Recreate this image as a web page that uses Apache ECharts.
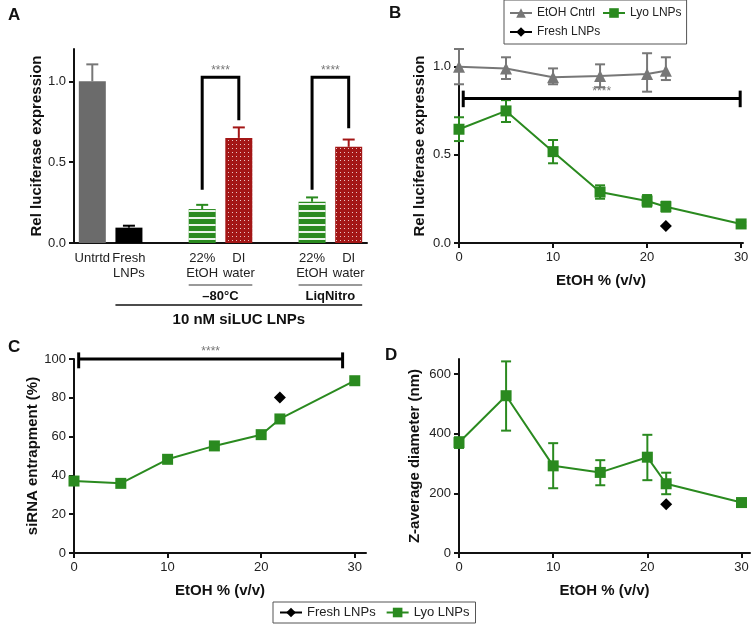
<!DOCTYPE html>
<html>
<head>
<meta charset="utf-8">
<script src="https://cdn.jsdelivr.net/npm/echarts@6/dist/echarts.min.js"></script>
<style>
  html, body { margin: 0; padding: 0; background: #fff; }
  #main { width: 752px; height: 626px; }
</style>
</head>
<body>
<div id="main"></div>
<script>
const FONT = '"Liberation Sans", Arial, sans-serif';
const GREEN = '#2a8a1f';
const RED = '#a31616';
const GRAY = '#6e6e6e';

// Panel A: bar chart (gap categories are empty slots)
const labelsA = ['Untrtd', 'Fresh\nLNPs', '', '22%\nEtOH', 'DI\nwater', '', '22%\nEtOH', 'DI\nwater'];
const meanA = [1.0, 0.095, null, 0.21, 0.65, null, 0.255, 0.595];
const errA = [0.105, 0.012, null, 0.026, 0.065, null, 0.027, 0.045];
const colorsA = ['#6b6b6b', '#000000', null, GREEN, RED, null, GREEN, RED];
const patternA = [null, null, null, 'lines', 'dots', null, 'lines', 'dots'];
// significance brackets: [leftIdx, rightIdx, leftFoot, top, rightFoot]
const bracketsA = [[3, 4, 0.33, 1.025, 0.76], [6, 7, 0.33, 1.025, 0.71]];

// Panel B: luciferase vs EtOH
const etohX = [0, 5, 10, 15, 20, 22];
const cntrlB = [1.0, 0.99, 0.94, 0.947, 0.958, 0.977];
const cntrlLoB = [0.90, 0.93, 0.90, 0.883, 0.858, 0.924];
const cntrlHiB = [1.10, 1.053, 0.99, 1.013, 1.076, 1.053];
const lyoX = [0, 5, 10, 15, 20, 22, 30];
const lyoB = [0.645, 0.749, 0.518, 0.289, 0.238, 0.206, 0.108];
const lyoLoB = [0.578, 0.686, 0.452, 0.251, 0.206, 0.178, 0.098];
const lyoHiB = [0.713, 0.81, 0.584, 0.327, 0.272, 0.234, 0.118];
const freshB = [22, 0.096];
const sigB = [0.45, 29.9, 0.82, 0.864, 0.77];

// Panel C: siRNA entrapment
const lyoC = [37.1, 35.9, 48.3, 55.2, 61.0, 69.1, 88.8];
const freshC = [22, 80.2];
const sigC = [0.5, 28.7, 100, 103.4, 95.2];

// Panel D: Z-average diameter
const lyoD = [370, 527, 292, 270, 321, 232, 169];
const lyoLoD = [352, 410, 217, 227, 244, 197, 162];
const lyoHiD = [388, 642, 368, 311, 396, 269, 176];
const freshD = [22, 163];

const xTicks = [0, 10, 20, 30];

function errRender(capW, upperOnly, colorOf) {
  return function (params, api) {
    const x = api.value(0);
    const lo = api.coord([x, api.value(1)]);
    const hi = api.coord([x, api.value(2)]);
    const style = { stroke: colorOf(params.dataIndex), lineWidth: 2 };
    const kids = [
      { type: 'line', shape: { x1: lo[0], y1: lo[1], x2: hi[0], y2: hi[1] }, style },
      { type: 'line', shape: { x1: hi[0] - capW / 2, y1: hi[1], x2: hi[0] + capW / 2, y2: hi[1] }, style }
    ];
    if (!upperOnly) {
      kids.push({ type: 'line', shape: { x1: lo[0] - capW / 2, y1: lo[1], x2: lo[0] + capW / 2, y2: lo[1] }, style });
    }
    return { type: 'group', children: kids };
  };
}

function sigRender(params, api) {
  const a = api.coord([api.value(0), api.value(2)]);
  const b = api.coord([api.value(1), api.value(2)]);
  const aTop = api.coord([api.value(0), api.value(3)]);
  const aBot = api.coord([api.value(0), api.value(4)]);
  const bTop = api.coord([api.value(1), api.value(3)]);
  const bBot = api.coord([api.value(1), api.value(4)]);
  const style = { stroke: '#000', lineWidth: 3 };
  return {
    type: 'group',
    children: [
      { type: 'line', shape: { x1: a[0], y1: a[1], x2: b[0], y2: b[1] }, style },
      { type: 'line', shape: { x1: aTop[0], y1: aTop[1], x2: aBot[0], y2: aBot[1] }, style },
      { type: 'line', shape: { x1: bTop[0], y1: bTop[1], x2: bBot[0], y2: bBot[1] }, style },
      { type: 'text', x: (a[0] + b[0]) / 2, y: a[1] - 1,
        style: { text: '****', fill: '#777', font: '12px ' + FONT, align: 'center', verticalAlign: 'bottom' } }
    ]
  };
}

function bracketRender(params, api) {
  const l = api.value(0), r = api.value(1);
  const p1 = api.coord([l, api.value(2)]);
  const p2 = api.coord([l, api.value(3)]);
  const p3 = api.coord([r, api.value(3)]);
  const p4 = api.coord([r, api.value(4)]);
  return {
    type: 'group',
    children: [
      { type: 'polyline', shape: { points: [p1, p2, p3, p4] }, style: { stroke: '#000', lineWidth: 3, fill: null } },
      { type: 'text', x: (p2[0] + p3[0]) / 2, y: p2[1] - 1,
        style: { text: '****', fill: '#777', font: '12px ' + FONT, align: 'center', verticalAlign: 'bottom' } }
    ]
  };
}

const axisLine = { lineStyle: { color: '#111', width: 2 } };
const axisTick = { length: 5, lineStyle: { color: '#111', width: 2 } };
const tickLabel = { color: '#222', fontSize: 13, fontFamily: FONT };
const nameStyle = { color: '#111', fontSize: 15, fontWeight: 'bold', fontFamily: FONT };

function valueX(gridIndex, max) {
  return {
    type: 'value', gridIndex, min: 0, max,
    name: 'EtOH % (v/v)', nameLocation: 'middle', nameGap: 30, nameTextStyle: nameStyle,
    axisLine, axisTick: Object.assign({ customValues: xTicks }, axisTick),
    axisLabel: Object.assign({ customValues: xTicks }, tickLabel),
    splitLine: { show: false }
  };
}

function valueY(gridIndex, max, ticks, name, gap, fmt) {
  return {
    type: 'value', gridIndex, min: 0, max,
    name, nameLocation: 'middle', nameGap: gap, nameTextStyle: nameStyle,
    axisLine: Object.assign({ show: true }, axisLine),
    axisTick: Object.assign({ show: true, customValues: ticks }, axisTick),
    axisLabel: Object.assign({ customValues: ticks, formatter: fmt }, tickLabel),
    splitLine: { show: false }
  };
}

const oneDec = v => v.toFixed(1);

const barData = meanA.map((v, i) => {
  if (v === null) return null;
  const item = { value: v, itemStyle: { color: colorsA[i] } };
  if (patternA[i] === 'lines') {
    item.itemStyle.decal = { symbol: 'rect', symbolSize: 1, color: 'rgba(255,255,255,0.9)',
      dashArrayX: [1, 0], dashArrayY: [1.5, 4.5], rotation: 0 };
  } else if (patternA[i] === 'dots') {
    item.itemStyle.decal = { symbol: 'rect', symbolSize: 1, color: 'rgba(255,255,255,0.75)',
      dashArrayX: [1, 3], dashArrayY: [1, 3], rotation: 0 };
  }
  return item;
});
const errDataA = [];
meanA.forEach((v, i) => { if (v !== null) errDataA.push([i, v, v + errA[i], i]); });

function errData(xs, lo, hi) { return xs.map((x, i) => [x, lo[i], hi[i]]); }
function lineData(xs, ys) { return xs.map((x, i) => [x, ys[i]]); }

const lyoStyle = {
  name: 'Lyo LNPs', type: 'line', symbol: 'rect', symbolSize: 11,
  itemStyle: { color: GREEN }, lineStyle: { color: GREEN, width: 2 }, z: 5
};
const freshStyle = {
  name: 'Fresh LNPs', type: 'line', symbol: 'diamond', symbolSize: 12,
  itemStyle: { color: '#000' }, lineStyle: { color: '#000', width: 2 }, z: 5
};

const chart = echarts.init(document.getElementById('main'));

chart.setOption({
  animation: false,
  textStyle: { fontFamily: FONT },
  title: [
    { text: 'A', left: 3, top: 2, textStyle: { fontSize: 17, fontWeight: 'bold', color: '#111' } },
    { text: 'B', left: 384, top: 0, textStyle: { fontSize: 17, fontWeight: 'bold', color: '#111' } },
    { text: 'C', left: 3, top: 334, textStyle: { fontSize: 17, fontWeight: 'bold', color: '#111' } },
    { text: 'D', left: 380, top: 342, textStyle: { fontSize: 17, fontWeight: 'bold', color: '#111' } }
  ],
  legend: [
    {
      left: 504, top: 0, width: 185, padding: [7, 5, 6, 5],
      data: ['EtOH Cntrl', 'Lyo LNPs', 'Fresh LNPs'],
      borderColor: '#555', borderWidth: 1,
      itemWidth: 22, itemHeight: 12, itemGap: 7,
      textStyle: { fontSize: 12, color: '#222', fontFamily: FONT }
    },
    {
      left: 273, top: 602, padding: [4, 6],
      data: ['Fresh LNPs', 'Lyo LNPs'],
      borderColor: '#555', borderWidth: 1,
      itemWidth: 22, itemHeight: 12, itemGap: 10,
      textStyle: { fontSize: 13, color: '#222', fontFamily: FONT }
    }
  ],
  grid: [
    { left: 74, right: 385, top: 49, bottom: 383 },
    { left: 459, right: 9, top: 49, bottom: 383 },
    { left: 74, right: 386, top: 359, bottom: 73 },
    { left: 459, right: 2, top: 359, bottom: 73 }
  ],
  xAxis: [
    {
      type: 'category', gridIndex: 0, data: labelsA.map((l, i) => 'c' + i),
      axisLine, axisTick: Object.assign({ alignWithLabel: true, interval: 0 }, axisTick),
      axisLabel: Object.assign({ interval: 0, lineHeight: 15, formatter: (v, i) => labelsA[i] }, tickLabel)
    },
    valueX(1, 30.2),
    valueX(2, 31.2),
    valueX(3, 30.9)
  ],
  yAxis: [
    valueY(0, 1.2, [0, 0.5, 1.0], 'Rel luciferase expression', 29, oneDec),
    valueY(1, 1.1, [0, 0.5, 1.0], 'Rel luciferase expression', 32, oneDec),
    valueY(2, 100, [0, 20, 40, 60, 80, 100], 'siRNA entrapment (%)', 30),
    valueY(3, 650, [0, 200, 400, 600], 'Z-average diameter (nm)', 37)
  ],
  series: [
    // A
    { type: 'bar', xAxisIndex: 0, yAxisIndex: 0, barWidth: 27, data: barData, z: 2 },
    { type: 'custom', xAxisIndex: 0, yAxisIndex: 0, data: errDataA, z: 3,
      renderItem: errRender(12, true, idx => colorsA[errDataA[idx][3]] === '#6b6b6b' ? '#777' : colorsA[errDataA[idx][3]]) },
    { type: 'custom', xAxisIndex: 0, yAxisIndex: 0, data: bracketsA, z: 4, renderItem: bracketRender },
    // B
    { type: 'custom', xAxisIndex: 1, yAxisIndex: 1, data: errData(etohX, cntrlLoB, cntrlHiB), z: 2,
      renderItem: errRender(10, false, () => '#777') },
    { type: 'custom', xAxisIndex: 1, yAxisIndex: 1, data: errData(lyoX, lyoLoB, lyoHiB), z: 2,
      renderItem: errRender(10, false, () => GREEN) },
    { name: 'EtOH Cntrl', type: 'line', xAxisIndex: 1, yAxisIndex: 1, data: lineData(etohX, cntrlB),
      symbol: 'triangle', symbolSize: 12, itemStyle: { color: '#777' }, lineStyle: { color: '#777', width: 2 }, z: 4 },
    Object.assign({ xAxisIndex: 1, yAxisIndex: 1, data: lineData(lyoX, lyoB) }, lyoStyle),
    Object.assign({ xAxisIndex: 1, yAxisIndex: 1, data: [freshB] }, freshStyle),
    { type: 'custom', xAxisIndex: 1, yAxisIndex: 1, data: [sigB], z: 6, renderItem: sigRender },
    // C
    Object.assign({ xAxisIndex: 2, yAxisIndex: 2, data: lineData(lyoX, lyoC) }, lyoStyle),
    Object.assign({ xAxisIndex: 2, yAxisIndex: 2, data: [freshC] }, freshStyle),
    { type: 'custom', xAxisIndex: 2, yAxisIndex: 2, data: [sigC], z: 6, renderItem: sigRender },
    // D
    { type: 'custom', xAxisIndex: 3, yAxisIndex: 3, data: errData(lyoX, lyoLoD, lyoHiD), z: 2,
      renderItem: errRender(10, false, () => GREEN) },
    Object.assign({ xAxisIndex: 3, yAxisIndex: 3, data: lineData(lyoX, lyoD) }, lyoStyle),
    Object.assign({ xAxisIndex: 3, yAxisIndex: 3, data: [freshD] }, freshStyle)
  ]
});

// group annotations under panel A, placed from the category axis
const px = i => chart.convertToPixel({ xAxisIndex: 0 }, i);
const halfBar = 13.5;
const groups = [[3, 4, '\u201380\u00b0C'], [6, 7, 'LiqNitro']];
const graphics = [];
groups.forEach(([a, b, label]) => {
  const x1 = px(a) - halfBar, x2 = px(b) + halfBar;
  graphics.push({ type: 'line', shape: { x1, y1: 285, x2, y2: 285 }, style: { stroke: '#999', lineWidth: 2 } });
  graphics.push({ type: 'text', x: (x1 + x2) / 2, y: 296,
    style: { text: label, font: 'bold 13px ' + FONT, fill: '#111', align: 'center', verticalAlign: 'middle' } });
});
const gx1 = px(1) - halfBar, gx2 = px(7) + halfBar;
graphics.push({ type: 'line', shape: { x1: gx1, y1: 305, x2: gx2, y2: 305 }, style: { stroke: '#111', lineWidth: 1.5 } });
graphics.push({ type: 'text', x: (gx1 + gx2) / 2, y: 320,
  style: { text: '10 nM siLUC LNPs', font: 'bold 15px ' + FONT, fill: '#111', align: 'center', verticalAlign: 'middle' } });
chart.setOption({ graphic: graphics });
</script>
</body>
</html>
